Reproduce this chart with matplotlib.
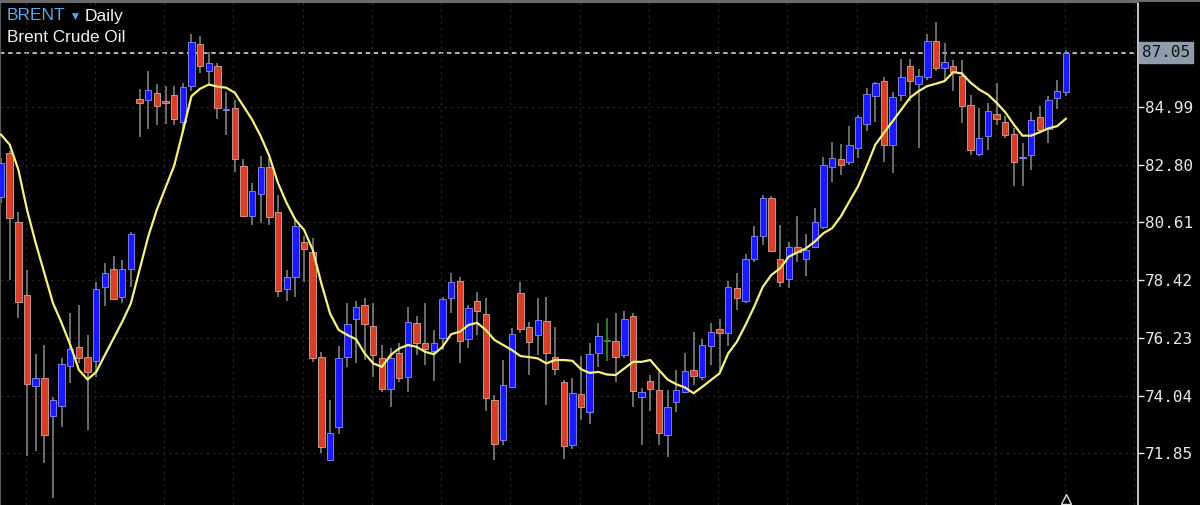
import numpy as np
import matplotlib
matplotlib.use("Agg")
import matplotlib.pyplot as plt
import matplotlib.transforms as mtransforms
from matplotlib.lines import Line2D

# ==================== DADOS (BRENT diário) ====================
opens = [81.58, 83.26, 80.61, 77.86, 74.40, 74.69, 73.26, 73.65, 75.18, 75.89,
         75.51, 75.36, 78.17, 78.83, 77.79, 78.83, 85.30, 85.25, 85.53, 85.21,
         85.45, 84.42, 85.78, 87.36, 86.35, 86.54, 84.87, 84.94, 82.74, 80.87,
         81.69, 82.72, 81.02, 78.07, 78.53, 79.86, 79.47, 75.49, 71.61, 72.83,
         75.51, 76.93, 77.48, 76.68, 75.47, 74.28, 75.64, 74.75, 76.80, 76.04,
         75.74, 76.23, 77.75, 78.40, 76.17, 77.64, 77.13, 73.89, 72.34, 74.37,
         77.94, 76.63, 76.34, 76.88, 75.51, 74.56, 72.15, 74.09, 73.42, 75.66,
         76.12, 76.12, 75.58, 77.05, 73.97, 74.60, 74.27, 72.56, 73.80, 74.18,
         75.01, 74.75, 75.92, 76.55, 76.40, 78.11, 77.64, 79.23, 80.08, 81.53,
         79.21, 78.45, 79.69, 79.21, 79.69, 80.45, 82.70, 83.02, 82.89, 83.44,
         84.36, 85.40, 85.97, 83.56, 85.44, 86.56, 85.87, 86.11, 87.49, 86.48,
         86.56, 86.18, 85.08, 83.22, 83.90, 84.73, 84.42, 83.98, 83.04, 83.15,
         84.61, 84.16, 85.34, 85.56]
highs = [83.05, 83.30, 80.99, 78.81, 75.61, 75.96, 74.00, 75.45, 77.16, 77.48,
         76.34, 78.36, 79.06, 79.34, 79.19, 80.26, 85.68, 86.37, 85.87, 85.78,
         85.78, 85.90, 87.74, 87.68, 87.07, 86.67, 85.55, 85.25, 83.00, 82.10,
         83.12, 83.06, 81.66, 78.81, 80.71, 80.08, 80.01, 75.70, 73.89, 75.92,
         77.56, 77.64, 77.73, 77.54, 75.96, 75.83, 76.02, 77.39, 77.06, 77.54,
         76.53, 77.79, 78.68, 78.55, 77.48, 77.98, 77.73, 74.06, 75.39, 76.59,
         78.34, 76.84, 77.73, 77.79, 76.65, 74.63, 74.71, 75.54, 76.02, 76.78,
         76.97, 77.16, 77.26, 77.19, 74.31, 74.82, 74.94, 74.25, 75.01, 75.66,
         76.46, 76.17, 76.80, 76.93, 78.40, 78.68, 79.42, 80.46, 81.66, 81.60,
         80.52, 79.88, 80.86, 80.18, 81.15, 83.09, 83.65, 83.60, 84.26, 84.70,
         85.72, 85.95, 86.14, 85.55, 86.79, 86.79, 86.44, 87.74, 88.21, 87.42,
         86.77, 86.77, 85.46, 84.96, 85.12, 85.88, 84.64, 84.20, 83.63, 84.79,
         85.04, 85.40, 86.01, 87.16]
lows = [81.35, 78.43, 76.97, 71.74, 71.94, 71.47, 70.17, 72.83, 74.52, 75.27,
        72.72, 74.75, 77.44, 77.65, 77.54, 78.17, 83.85, 84.16, 84.32, 84.36,
        84.32, 84.13, 85.61, 86.29, 85.84, 84.54, 83.94, 82.51, 80.82, 80.52,
        80.58, 80.52, 77.79, 77.64, 77.79, 78.36, 75.32, 71.86, 71.58, 72.57,
        75.11, 75.26, 75.39, 74.75, 74.18, 73.61, 74.56, 74.18, 75.58, 75.20,
        74.60, 75.77, 77.16, 75.26, 75.83, 76.34, 73.45, 71.61, 72.15, 74.31,
        76.40, 74.82, 75.58, 73.68, 74.82, 71.65, 72.03, 73.10, 72.98, 75.13,
        75.36, 74.56, 75.45, 73.61, 72.15, 73.46, 72.15, 71.71, 73.42, 74.12,
        74.43, 74.63, 75.20, 74.94, 75.92, 77.29, 77.54, 79.12, 79.76, 79.47,
        78.17, 78.11, 79.09, 78.59, 79.62, 80.36, 82.13, 82.39, 82.80, 83.06,
        84.07, 84.41, 82.89, 82.49, 85.21, 85.21, 83.44, 86.03, 86.35, 86.03,
        85.59, 84.39, 83.18, 83.12, 83.37, 84.32, 83.81, 81.98, 82.00, 82.61,
        84.07, 83.63, 84.93, 85.42]
closes = [82.88, 80.79, 77.60, 74.47, 74.69, 72.56, 73.89, 75.22, 75.79, 75.47,
          74.94, 78.07, 78.68, 77.69, 78.83, 80.17, 85.15, 85.63, 85.02, 85.12,
          84.54, 85.75, 87.45, 86.54, 86.67, 84.96, 84.92, 83.02, 80.86, 81.81,
          82.72, 80.83, 78.02, 78.53, 80.49, 79.60, 75.45, 72.09, 72.62, 75.45,
          76.74, 77.39, 76.75, 75.58, 74.28, 75.47, 74.69, 76.82, 76.02, 75.79,
          76.04, 77.71, 78.36, 76.12, 77.35, 77.25, 73.93, 72.22, 74.46, 76.36,
          76.56, 76.06, 76.91, 75.64, 75.03, 72.12, 74.14, 73.59, 75.61, 76.30,
          76.12, 75.51, 76.93, 74.22, 74.18, 74.28, 72.62, 73.61, 74.25, 74.98,
          74.79, 75.96, 76.44, 76.42, 78.15, 77.73, 79.21, 80.10, 81.53, 79.54,
          78.33, 79.69, 79.47, 79.57, 80.62, 82.77, 83.06, 82.77, 83.53, 84.61,
          85.49, 85.88, 83.53, 85.37, 86.14, 85.97, 86.16, 87.49, 86.48, 86.70,
          86.30, 85.02, 83.37, 83.81, 84.85, 84.55, 83.93, 82.90, 83.08, 84.51,
          84.13, 85.27, 85.61, 87.05]
# média móvel (linha amarela)
ma_values = [83.94, 83.56, 82.61, 81.09, 79.83, 78.69, 77.55, 76.79, 75.96, 75.01,
             74.65, 74.94, 75.58, 76.21, 76.84, 77.54, 78.81, 80.07, 81.09, 81.93,
             82.76, 84.06, 85.40, 85.68, 85.84, 85.76, 85.72, 85.53, 85.02, 84.51,
             83.88, 83.12, 82.10, 81.34, 80.71, 80.33, 79.57, 78.30, 77.16, 76.53,
             76.34, 76.18, 75.64, 75.26, 75.13, 75.58, 75.83, 75.96, 75.89, 75.70,
             75.61, 75.89, 76.37, 76.46, 76.72, 76.80, 76.53, 76.15, 75.96, 75.77,
             75.54, 75.50, 75.45, 75.26, 75.39, 75.39, 75.36, 75.04, 74.90, 74.94,
             74.84, 74.82, 75.07, 75.32, 75.32, 75.39, 75.01, 74.65, 74.47, 74.35,
             74.13, 74.37, 74.63, 74.88, 75.64, 76.08, 76.72, 77.41, 78.17, 78.62,
             78.87, 79.31, 79.47, 79.63, 79.88, 80.20, 80.39, 80.83, 81.41, 81.98,
             82.74, 83.56, 84.01, 84.45, 84.89, 85.34, 85.59, 85.78, 85.87, 85.97,
             86.31, 86.26, 85.91, 85.65, 85.46, 85.15, 84.79, 84.32, 83.90, 83.90,
             84.03, 84.18, 84.26, 84.54]
tick_values = [84.99, 82.80, 80.61, 78.42, 76.23, 74.04, 71.85]
tick_labels = ["84.99", "82.80", "80.61", "78.42", "76.23", "74.04", "71.85"]
last_price = 87.05

# ==================== ESTILO ====================
COR_ALTA = "#1a1aff"
COR_BAIXA = "#d4402a"
COR_DOJI = "#3c9a3c"
COR_PAVIO = "#8a8a8a"

fig = plt.figure(figsize=(12, 5.05), dpi=100, facecolor="black")
ax = fig.add_axes([0, 0, 1138 / 1200, 1 - 2 / 505])
ax.set_facecolor("black")

o = np.array(opens)
h = np.array(highs)
l = np.array(lows)
c = np.array(closes)
idx = np.arange(len(c))

cores = np.where(c > o, COR_ALTA, np.where(c < o, COR_BAIXA, COR_DOJI))
bordas = np.where(c > o, "#8c8cff", np.where(c < o, "#d9a496", COR_DOJI))
pavios = np.where(c == o, COR_DOJI, COR_PAVIO)

ax.vlines(idx, l, h, colors=pavios, linewidth=1.1, zorder=2)
base = np.minimum(o, c)
altura = np.maximum(np.abs(c - o), 0.03)
ax.bar(idx, altura, bottom=base, width=0.74, color=cores, edgecolor=bordas,
       linewidth=0.6, zorder=3)

ax.plot(idx, ma_values, color="#f6f27c", linewidth=1.6, zorder=4)

# linha do último preço
ax.axhline(last_price, color="#c4c4c4", linestyle=(0, (2.5, 2)), linewidth=1.3, zorder=1)

ax.set_xlim(-0.12, 131.34)
ax.set_ylim(69.89, 88.97)

# grade
ax.set_xticks(np.arange(2.85, 131, 8))
ax.tick_params(axis="x", length=0, labelbottom=False)
ax.yaxis.tick_right()
ax.set_yticks(tick_values)
ax.set_yticklabels(tick_labels)
ax.tick_params(axis="y", colors="#e8e8e8", length=4, width=1, pad=1,
               labelsize=11.5, labelcolor="#e8e8e8")
for lab in ax.get_yticklabels():
    lab.set_fontfamily("DejaVu Sans Mono")
ax.grid(True, color="#232323", linestyle=(0, (2, 3)), linewidth=0.9)

ax.spines["bottom"].set_visible(False)
ax.spines["right"].set_color("#d6d6d6")
ax.spines["right"].set_linewidth(1.3)
ax.spines["left"].set_color("#5a5a5a")
ax.spines["top"].set_color("#6a6a6a")
ax.spines["top"].set_linewidth(1.5)
fig.add_artist(Line2D([0, 1], [1 - 1 / 505, 1 - 1 / 505], color="#6a6a6a",
                      linewidth=1.5, transform=fig.transFigure))

# etiqueta do preço atual
trans = mtransforms.blended_transform_factory(ax.transAxes, ax.transData)
ax.text(1.0035, last_price, f"{last_price:.2f}", transform=trans, ha="left",
        va="center", fontsize=11.5, family="DejaVu Sans Mono", color="#111111",
        bbox=dict(boxstyle="square,pad=0.18", facecolor="#8e9cab", edgecolor="#8e9cab"),
        clip_on=False, zorder=6)

# marcador da última barra
trans_x = mtransforms.blended_transform_factory(ax.transData, ax.transAxes)
ax.plot([idx[-1]], [0.012], marker="^", markersize=7, markerfacecolor="none",
        markeredgecolor="#dddddd", markeredgewidth=1, transform=trans_x, clip_on=False)

# título
fig.text(7 / 1200, 1 - 16 / 505, "BRENT", color="#5da9e9", fontsize=12.5,
         family="Liberation Sans", va="center", ha="left")
fig.text(72 / 1200, 1 - 16 / 505, "▼", color="#5da9e9", fontsize=6.5,
         family="DejaVu Sans", va="center", ha="left")
fig.text(85 / 1200, 1 - 16 / 505, "Daily", color="#f2f2f2", fontsize=12.5,
         family="Liberation Sans", va="center", ha="left")
fig.text(7 / 1200, 1 - 37 / 505, "Brent Crude Oil", color="#f2f2f2", fontsize=12.3,
         family="Liberation Sans", va="center", ha="left")

fig.savefig("out.png", dpi=100, facecolor="black")
